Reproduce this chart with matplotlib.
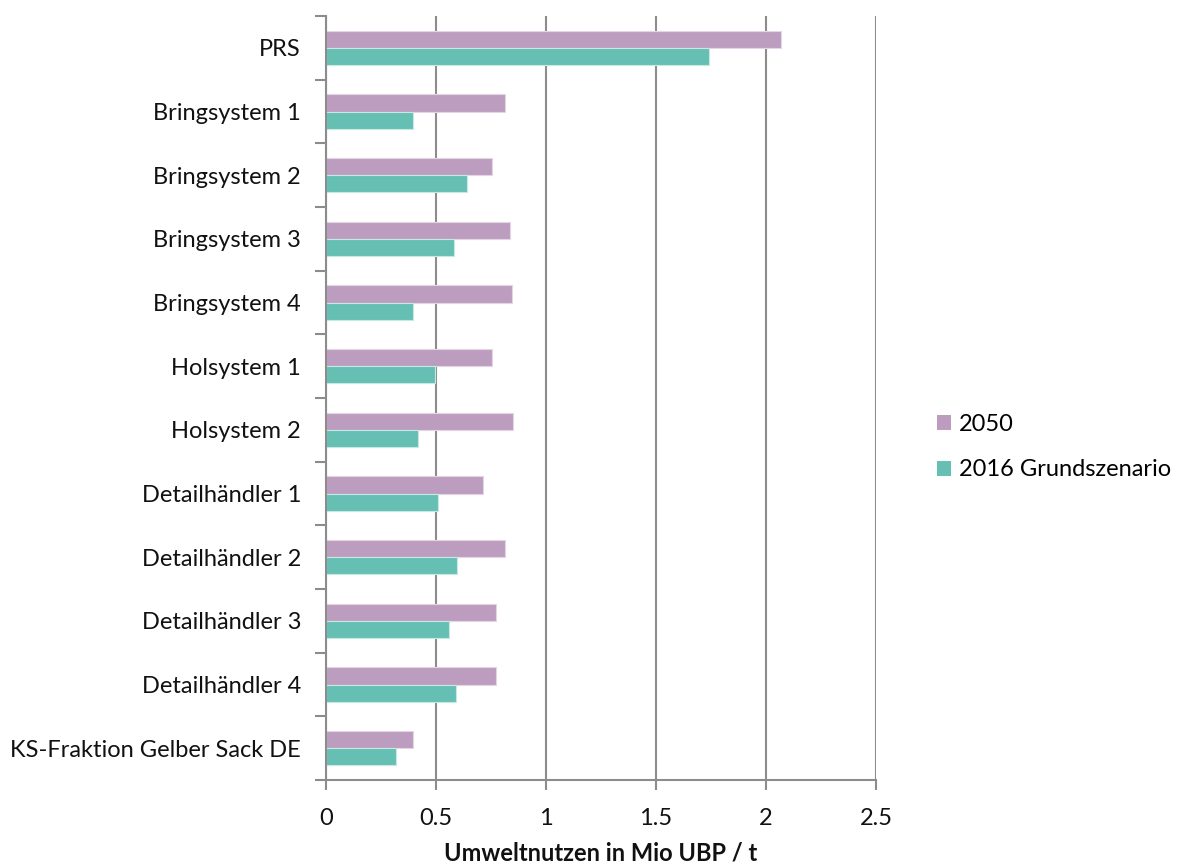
import matplotlib
matplotlib.use("Agg")
import matplotlib.pyplot as plt
import numpy as np
from matplotlib.patches import Patch

plt.rcParams['font.family'] = ['Lato', 'DejaVu Sans']

categories = [
    "PRS", "Bringsystem 1", "Bringsystem 2", "Bringsystem 3", "Bringsystem 4",
    "Holsystem 1", "Holsystem 2", "Detailhändler 1", "Detailhändler 2",
    "Detailhändler 3", "Detailhändler 4", "KS-Fraktion Gelber Sack DE",
]
values_2050 = [2.07, 0.815, 0.756, 0.836, 0.845, 0.756, 0.851, 0.713, 0.815, 0.772, 0.772, 0.394]
values_2016 = [1.74, 0.394, 0.641, 0.583, 0.394, 0.496, 0.416, 0.511, 0.597, 0.561, 0.589, 0.320]
series_labels = ["2050", "2016 Grundszenario"]
x_ticks = [0, 0.5, 1, 1.5, 2, 2.5]
x_label = "Umweltnutzen in Mio UBP / t"

color_2050 = "#BC9DBF"
color_2016 = "#66BFB3"
axis_gray = "#8C8C8C"
fs = 17

W, H = 1178, 868
fig = plt.figure(figsize=(W / 100, H / 100), dpi=100)
ax = fig.add_axes([326 / W, 1 - 780 / H, (876 - 326) / W, (780 - 16) / H])

n = len(categories)
y = np.arange(n)
bh = 0.272
ax.barh(y - bh / 2, values_2050, height=bh, color=color_2050, edgecolor="#E3D5E4", linewidth=0.8, zorder=3)
ax.barh(y + bh / 2, values_2016, height=bh, color=color_2016, edgecolor="#C8E8E3", linewidth=0.8, zorder=3)

ax.set_ylim(n - 0.5, -0.5)
ax.set_xlim(0, 2.5)

ax.set_yticks(y)
ax.set_yticklabels(categories, fontsize=fs, color="#111111")
ax.tick_params(axis="y", which="major", length=0, pad=18)
ax.set_yticks(np.arange(n + 1) - 0.5, minor=True)
ax.tick_params(axis="y", which="minor", length=8, width=1.5, color=axis_gray)

ax.set_xticks(x_ticks)
ax.set_xticklabels([f"{t:g}" for t in x_ticks], fontsize=fs, color="#111111")
ax.tick_params(axis="x", which="major", length=7, width=1.5, color=axis_gray, pad=13)

ax.grid(axis="x", color=axis_gray, linewidth=1.5, zorder=0)
ax.set_axisbelow(True)
for s in ["top", "right"]:
    ax.spines[s].set_visible(False)
for s in ["left", "bottom"]:
    ax.spines[s].set_color(axis_gray)
    ax.spines[s].set_linewidth(1.5)
    ax.spines[s].set_zorder(4)

ax.set_xlabel(x_label, fontsize=fs, fontweight="bold", labelpad=9, color="#111111")

handles = [Patch(facecolor=color_2050, edgecolor="none"), Patch(facecolor=color_2016, edgecolor="none")]
fig.legend(handles, series_labels, loc="center left", bbox_to_anchor=(918 / W, 1 - 447 / H),
           frameon=False, fontsize=fs, handlelength=0.6, handleheight=0.6,
           handletextpad=0.35, labelspacing=1.05, borderpad=0.3)

fig.savefig("out.png", dpi=100)
